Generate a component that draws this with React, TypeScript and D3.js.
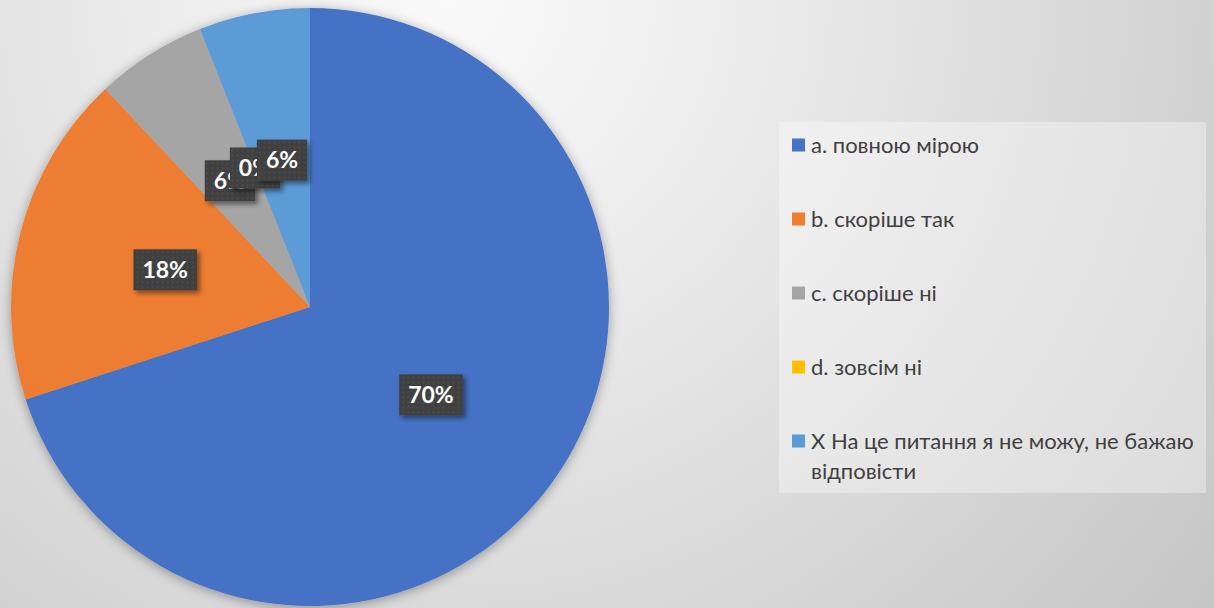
import * as d3 from 'd3'

const width = 1214
const height = 608
const cx = 310
const cy = 307
const radius = 299

const categories = [
  'a. повною мірою',
  'b. скоріше так',
  'c. скоріше ні',
  'd. зовсім ні',
  'X На це питання я не можу, не бажаю відповісти',
]
const values = [70, 18, 6, 0, 6]
const colors = ['#4472C4', '#ED7D31', '#A5A5A5', '#FFC000', '#5B9BD5']

const labelFont = 'bold 23px Lato, "Open Sans", sans-serif'
const legendFontSize = 22
const legendFont = `${legendFontSize}px Lato, "Open Sans", sans-serif`

// measure text with a canvas so the labels and legend can be sized
const ctx = document.createElement('canvas').getContext('2d')!
function measure(text: string, font: string) {
  ctx.font = font
  return ctx.measureText(text).width
}

function wrap(text: string, font: string, maxWidth: number) {
  const words = text.split(' ')
  const lines: string[] = []
  let line = ''
  for (const w of words) {
    const next = line ? line + ' ' + w : w
    if (line && measure(next, font) > maxWidth) {
      lines.push(line)
      line = w
    } else line = next
  }
  if (line) lines.push(line)
  return lines
}

export default function App() {
  const data = categories.map((c, i) => ({ category: c, value: values[i], color: colors[i] }))

  const pie = d3
    .pie<{ category: string; value: number; color: string }>()
    .value(d => d.value)
    .sort(null)
  const arcs = pie(data)
  const arc = d3
    .arc<d3.PieArcDatum<{ category: string; value: number; color: string }>>()
    .innerRadius(0)
    .outerRadius(radius)

  // legend layout
  const legendX = 779
  const legendY = 122
  const legendW = 427
  const legendH = 371
  const rowY = d3.scalePoint<number>().domain(d3.range(categories.length)).range([145, 441])

  return (
    <svg
      width={width}
      height={height}
      viewBox={`0 0 ${width} ${height}`}
      style={{ position: 'absolute', left: 0, top: 0, display: 'block' }}
    >
      <defs>
        <radialGradient id="bg" gradientUnits="userSpaceOnUse" cx={450} cy={0} r={1000}>
          <stop offset="0" stopColor="#fafafa" />
          <stop offset="0.3" stopColor="#ececec" />
          <stop offset="1" stopColor="#c4c4c4" />
        </radialGradient>
        <filter id="pieShadow" x="-10%" y="-10%" width="120%" height="120%">
          <feDropShadow dx="0" dy="2" stdDeviation="6" floodColor="#000" floodOpacity="0.35" />
        </filter>
        <filter id="boxShadow" x="-30%" y="-30%" width="160%" height="160%">
          <feDropShadow dx="3" dy="3" stdDeviation="2.5" floodColor="#000" floodOpacity="0.45" />
        </filter>
        <pattern id="dots" width="5" height="5" patternUnits="userSpaceOnUse">
          <rect width="5" height="5" fill="#404040" />
          <rect x="1.5" y="1.5" width="2" height="2" fill="#4b4b4b" />
        </pattern>
      </defs>

      <rect width={width} height={height} fill="url(#bg)" />

      <g transform={`translate(${cx},${cy})`}>
        <g filter="url(#pieShadow)">
          {arcs.map((a, i) => (
            <path key={i} d={arc(a) ?? ''} fill={a.data.color} />
          ))}
        </g>
        {arcs.map((a, i) => {
          const [lx, ly] = arc.centroid(a)
          const text = `${a.data.value}%`
          const bw = measure(text, labelFont) + 18
          const bh = 41
          return (
            <g key={i} transform={`translate(${lx},${ly})`}>
              <rect
                x={-bw / 2}
                y={-bh / 2}
                width={bw}
                height={bh}
                fill="url(#dots)"
                filter="url(#boxShadow)"
              />
              <text
                textAnchor="middle"
                dy="0.36em"
                fill="#ffffff"
                style={{ font: labelFont }}
              >
                {text}
              </text>
            </g>
          )
        })}
      </g>

      <rect x={legendX} y={legendY} width={legendW} height={legendH} fill="#ffffff" fillOpacity={0.35} />
      {categories.map((c, i) => {
        const lines = wrap(c, legendFont, 400)
        const y = rowY(i) ?? 0
        return (
          <g key={i}>
            <rect x={792} y={y - 6.5} width={13} height={13} fill={colors[i]} />
            <text x={811} y={y} fill="#404040" style={{ font: legendFont }}>
              {lines.map((l, j) => (
                <tspan key={j} x={811} dy={j === 0 ? '0.36em' : 30}>
                  {l}
                </tspan>
              ))}
            </text>
          </g>
        )
      })}
    </svg>
  )
}
